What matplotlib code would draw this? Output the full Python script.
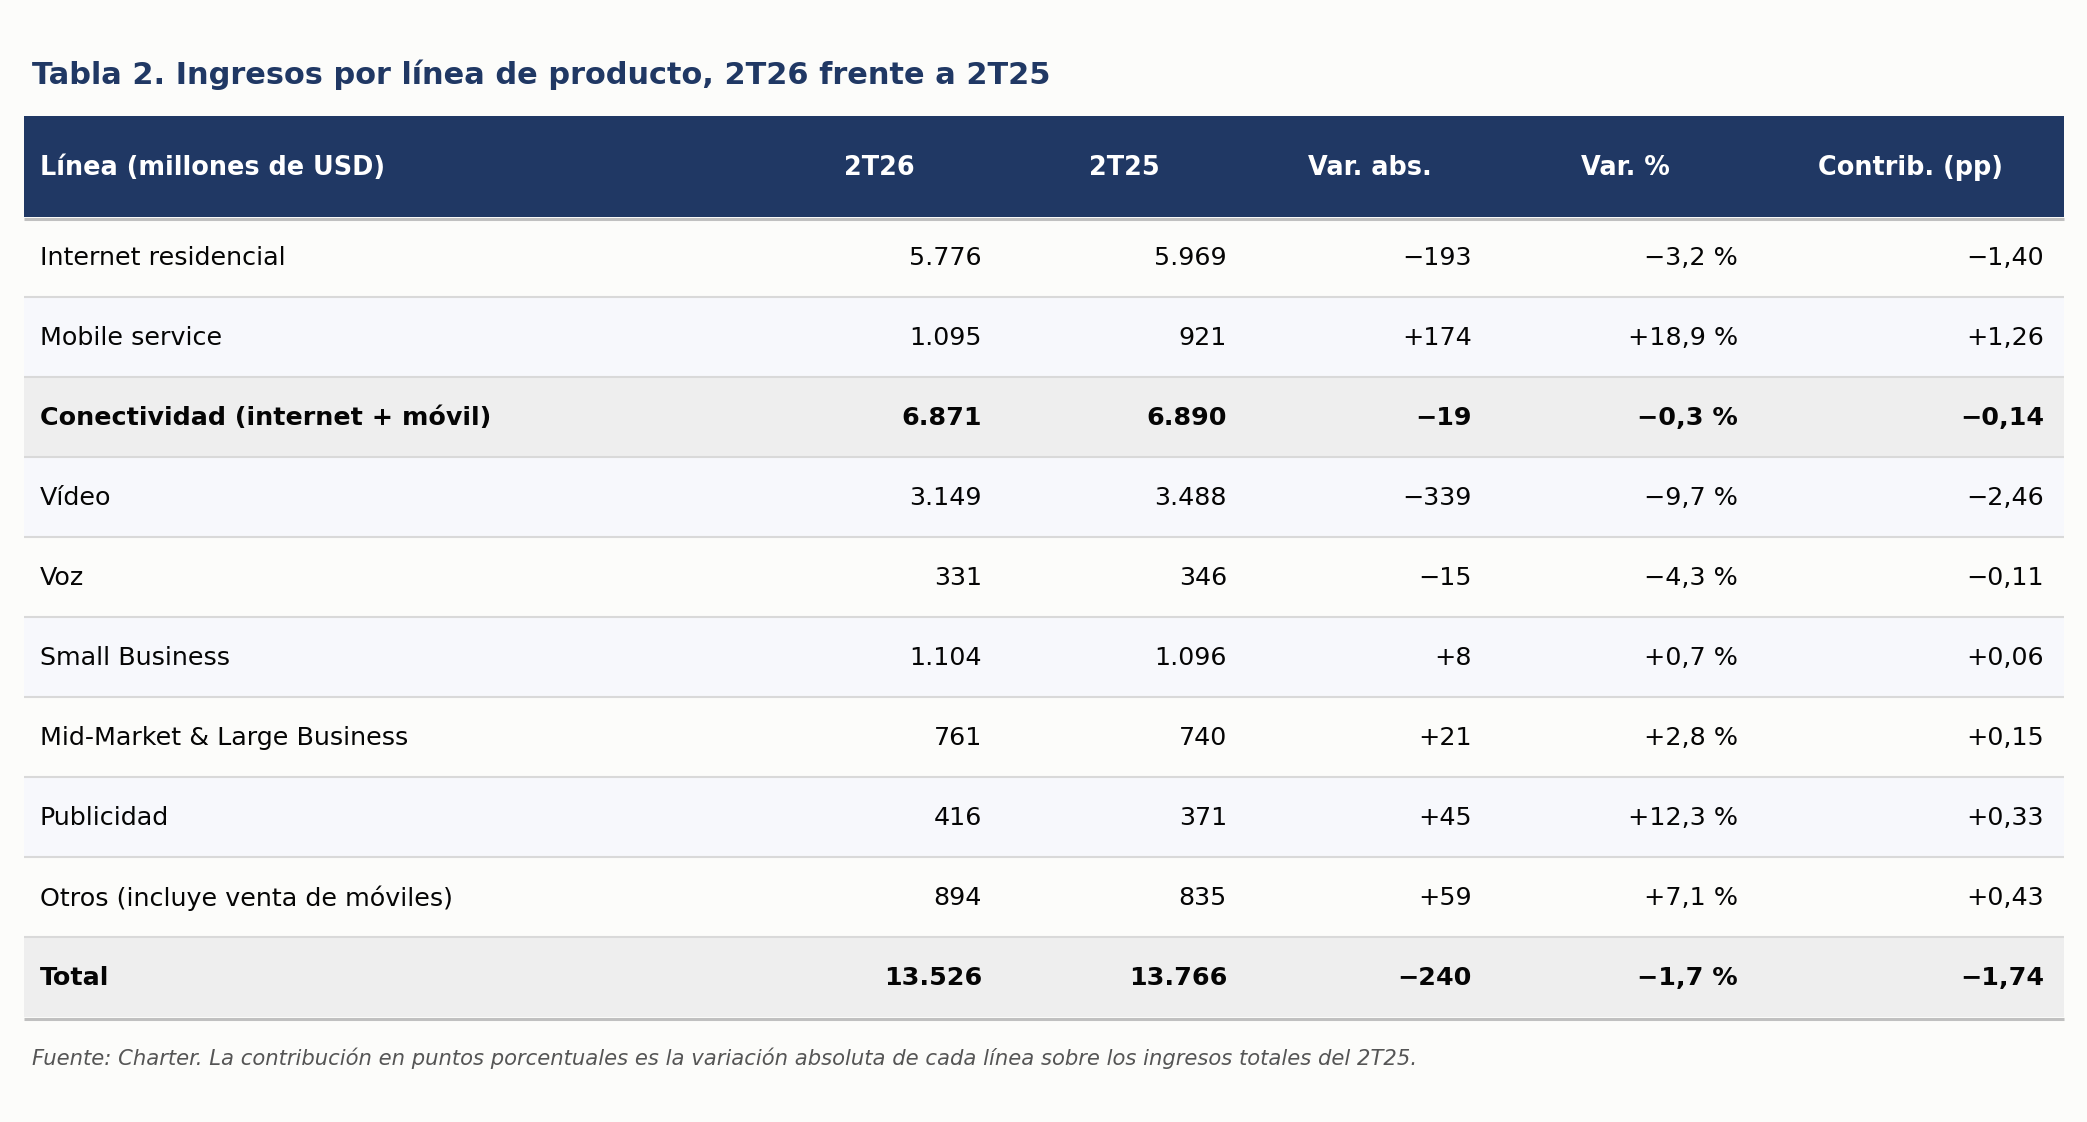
import matplotlib
matplotlib.use("Agg")
import matplotlib.pyplot as plt
from matplotlib.patches import Rectangle

# datos
lineas = ["Internet residencial", "Mobile service", "Conectividad (internet + móvil)",
          "Vídeo", "Voz", "Small Business", "Mid-Market & Large Business",
          "Publicidad", "Otros (incluye venta de móviles)", "Total"]
t26 = ["5.776", "1.095", "6.871", "3.149", "331", "1.104", "761", "416", "894", "13.526"]
t25 = ["5.969", "921", "6.890", "3.488", "346", "1.096", "740", "371", "835", "13.766"]
var_abs = ["−193", "+174", "−19", "−339", "−15", "+8", "+21", "+45", "+59", "−240"]
var_pct = ["−3,2 %", "+18,9 %", "−0,3 %", "−9,7 %", "−4,3 %", "+0,7 %", "+2,8 %",
           "+12,3 %", "+7,1 %", "−1,7 %"]
contrib = ["−1,40", "+1,26", "−0,14", "−2,46", "−0,11", "+0,06", "+0,15",
           "+0,33", "+0,43", "−1,74"]
negrita = [False, False, True, False, False, False, False, False, False, True]
encabezados = ["Línea (millones de USD)", "2T26", "2T25", "Var. abs.", "Var. %", "Contrib. (pp)"]

W, H = 2087, 1122
NAVY = "#203864"
BG = "#fcfcfa"

fig = plt.figure(figsize=(W / 100, H / 100), dpi=100, facecolor=BG)
ax = fig.add_axes([0, 0, 1, 1])
ax.set_xlim(0, W)
ax.set_ylim(H, 0)
ax.axis("off")

# geometria de la tabla (px)
bordes = [24, 757, 1002, 1247, 1492, 1758, 2064]
top_hdr, bot_hdr = 116, 217
alto_fila = 80
pad = 20

ax.text(32, 75, "Tabla 2. Ingresos por línea de producto, 2T26 frente a 2T25",
        fontsize=21.9, fontweight="bold", color=NAVY, va="center", ha="left")

# encabezado
ax.add_patch(Rectangle((bordes[0], top_hdr), bordes[-1] - bordes[0], bot_hdr - top_hdr,
                       facecolor=NAVY, edgecolor="none"))
yh = (top_hdr + bot_hdr) / 2 + 1.5
for j, txt in enumerate(encabezados):
    if j == 0:
        ax.text(bordes[0] + 16, yh, txt, color="white", fontsize=18.4, fontweight="bold",
                va="center", ha="left")
    else:
        ax.text((bordes[j] + bordes[j + 1]) / 2, yh, txt, color="white", fontsize=18.4,
                fontweight="bold", va="center", ha="center")

columnas = [t26, t25, var_abs, var_pct, contrib]
for i, nombre in enumerate(lineas):
    y0 = bot_hdr + i * alto_fila
    if negrita[i]:
        fc = "#eeeeee"
    elif i % 2 == 1:
        fc = "#f7f8fc"
    else:
        fc = BG
    ax.add_patch(Rectangle((bordes[0], y0), bordes[-1] - bordes[0], alto_fila,
                           facecolor=fc, edgecolor="none"))
    if i > 0:
        ax.plot([bordes[0], bordes[-1]], [y0, y0], color="#d9d9d9", lw=1.5,
                solid_capstyle="butt")
    yc = y0 + alto_fila / 2 + 0.8
    peso = "bold" if negrita[i] else "normal"
    ax.text(bordes[0] + 16, yc, nombre, fontsize=18.25, fontweight=peso, color="#050505",
            va="center", ha="left")
    for j, col in enumerate(columnas):
        ax.text(bordes[j + 2] - pad, yc, col[i], fontsize=18.25, fontweight=peso,
                color="#050505", va="center", ha="right")

# lineas gruesas
ax.plot([bordes[0], bordes[-1]], [bot_hdr + 1.5, bot_hdr + 1.5], color="#c0c0c0", lw=2.2,
        solid_capstyle="butt")
y_fin = bot_hdr + len(lineas) * alto_fila
ax.plot([bordes[0], bordes[-1]], [y_fin + 1.5, y_fin + 1.5], color="#c0c0c0", lw=2.2,
        solid_capstyle="butt")

ax.text(32, 1058, "Fuente: Charter. La contribución en puntos porcentuales es la variación "
        "absoluta de cada línea sobre los ingresos totales del 2T25.",
        fontsize=15.2, style="italic", color="#555555", va="center", ha="left")

fig.savefig("out.png", dpi=100, facecolor=BG)
